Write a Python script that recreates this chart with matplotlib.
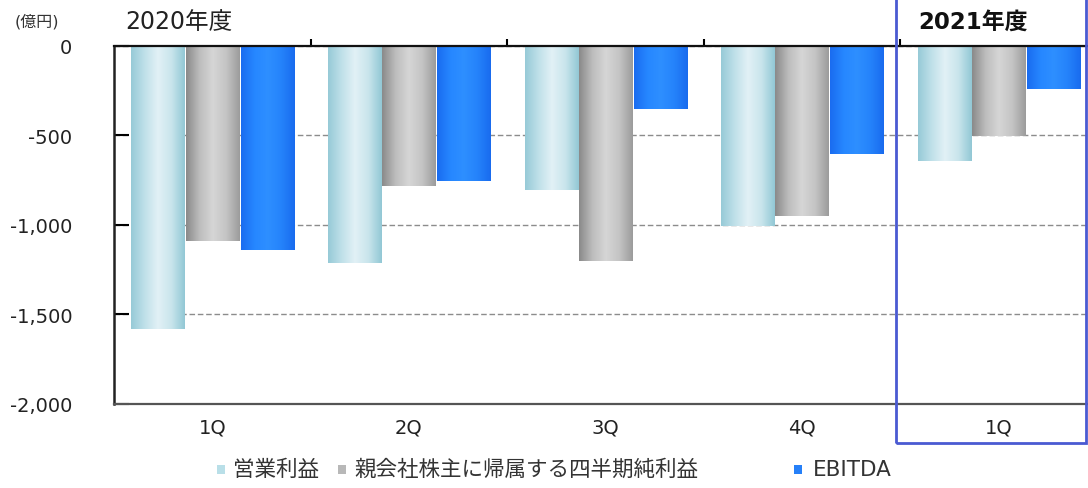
import matplotlib

matplotlib.use("Agg")
import matplotlib.pyplot as plt
import numpy as np
from matplotlib.colors import LinearSegmentedColormap
from matplotlib.patches import Rectangle

plt.rcParams["font.family"] = ["DejaVu Sans", "Noto Sans CJK JP"]

quarters = ["1Q", "2Q", "3Q", "4Q", "1Q"]
series_names = ["営業利益", "親会社株主に帰属する四半期純利益", "EBITDA"]
operating_profit = [-1580, -1215, -807, -1008, -643]
net_profit = [-1090, -785, -1200, -951, -504]
ebitda = [-1140, -757, -355, -606, -243]
y_ticks = [0, -500, -1000, -1500, -2000]
y_tick_labels = ["0", "-500", "-1,000", "-1,500", "-2,000"]

# cylinder-style shading across each bar: edge -> highlight -> edge
shades = [
    ["#97cad7", "#bfe0e9", "#e2f1f6", "#c9e5ec", "#92c8d5"],
    ["#8a8a8a", "#bdbdbd", "#d6d6d6", "#c4c4c4", "#9c9c9c"],
    ["#1a6cf0", "#2687ff", "#2e8fff", "#2583fb", "#196bee"],
]
legend_colors = ["#b9dfe8", "#b8b8b8", "#2680f8"]
offsets = [-0.275, 0.0, 0.28]
bar_width = 0.272

fig = plt.figure(figsize=(10.88, 4.89), dpi=100)
ax = fig.add_axes([114 / 1088, 1 - 405 / 489, 983 / 1088, (405 - 46.5) / 489])

x = np.arange(len(quarters))
gradient = np.linspace(0, 1, 128).reshape(1, -1)
for values, colors, off in zip([operating_profit, net_profit, ebitda], shades, offsets):
    cmap = LinearSegmentedColormap.from_list("shade", colors)
    bars = ax.bar(x + off, values, width=bar_width, color="none", zorder=2)
    for patch in bars:
        x0, y0 = patch.get_x(), patch.get_y()
        w, h = patch.get_width(), patch.get_height()
        ax.imshow(gradient, cmap=cmap, aspect="auto", zorder=2,
                  extent=[x0, x0 + w, y0 + h, y0], interpolation="bilinear")

ax.set_xlim(-0.5, 4.5)
ax.set_ylim(-2000, 0)

ax.set_yticks(y_ticks)
ax.set_yticklabels(y_tick_labels, fontsize=14, color="#222222")
ax.tick_params(axis="y", direction="in", length=11, width=1.5, pad=30)

ax.set_xticks(x)
ax.set_xticklabels(quarters, fontsize=14, color="#222222")
ax.tick_params(axis="x", which="major", length=0, pad=10)
ax.set_xticks(x[:-1] + 0.5, minor=True)
ax.tick_params(axis="x", which="minor", bottom=False, top=True,
               direction="out", length=5, width=1.5)

ax.grid(axis="y", linestyle=(0, (4, 2)), color="#8c8c8c", linewidth=1, zorder=1)
ax.set_axisbelow(True)

ax.spines["right"].set_visible(False)
ax.spines["left"].set_linewidth(1.8)
ax.spines["left"].set_color("#222222")
ax.spines["top"].set_linewidth(1.6)
ax.spines["top"].set_color("#111111")
ax.spines["bottom"].set_linewidth(1.6)
ax.spines["bottom"].set_color("#555555")

fig.text(15 / 1088, 1 - 22 / 489, "(億円)", fontsize=11.5, color="#333333",
         va="center", ha="left")
fig.text(125 / 1088, 1 - 22 / 489, "2020年度", fontsize=17, color="#222222",
         va="center", ha="left")
fig.text(918 / 1088, 1 - 22 / 489, "2021年度", fontsize=16.5, color="#111111",
         va="center", ha="left", fontweight="bold")

# frame around the new fiscal year
fig.patches.append(Rectangle((896 / 1088, 1 - 444 / 489), 190 / 1088, 460 / 489,
                             transform=fig.transFigure, fill=False,
                             edgecolor="#4a5ad2", linewidth=2, zorder=5))

# legend drawn by hand
marker_x = [217, 338, 794]
text_x = [233, 354, 813]
for name, color, mx, tx in zip(series_names, legend_colors, marker_x, text_x):
    fig.patches.append(Rectangle((mx / 1088, 1 - 475 / 489), 8 / 1088, 9 / 489,
                                 transform=fig.transFigure, facecolor=color,
                                 edgecolor="none"))
    fig.text(tx / 1088, 1 - 470 / 489, name, fontsize=15.5, color="#333333",
             va="center", ha="left")

fig.savefig("out.png", dpi=100)
